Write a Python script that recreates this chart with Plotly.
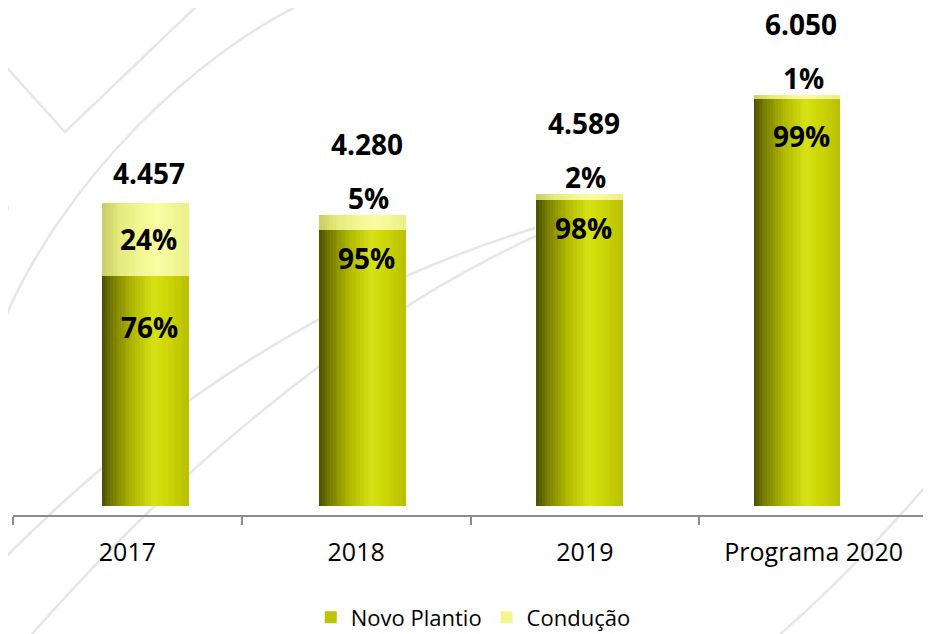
import plotly.graph_objects as go

# ---------------- data ----------------
categories = ["2017", "2018", "2019", "Programa 2020"]
totals = [4457, 4280, 4589, 6050]
novo_pct = [76, 95, 98, 99]
conducao_pct = [24, 5, 2, 1]

novo_vals = [t * p / 100 for t, p in zip(totals, novo_pct)]
cond_vals = [t * p / 100 for t, p in zip(totals, conducao_pct)]

# ---------------- style ----------------
FONT = "Open Sans"
BAR_W = 0.40
N_STRIPS = 32
novo_stops = [(0.0, (74, 76, 0)), (0.12, (120, 126, 0)), (0.35, (176, 184, 0)),
              (0.6, (214, 226, 22)), (0.75, (205, 215, 6)), (1.0, (184, 192, 0))]
cond_stops = [(0.0, (200, 204, 100)), (0.2, (228, 234, 124)), (0.5, (244, 249, 150)),
              (0.65, (249, 252, 162)), (1.0, (234, 240, 134))]
novo_legend_color = "#bcc600"
cond_legend_color = "#f2f78c"
novo_label_drop = [-51, -28, -28, -37]


def interp(stops, t):
    for (t0, c0), (t1, c1) in zip(stops[:-1], stops[1:]):
        if t0 <= t <= t1:
            f = (t - t0) / (t1 - t0) if t1 > t0 else 0
            c = [round(a + (b - a) * f) for a, b in zip(c0, c1)]
            return "rgb(%d,%d,%d)" % tuple(c)
    return "rgb(%d,%d,%d)" % stops[-1][1]


fig = go.Figure()


def add_cylinder(name, vals, bases, stops, legend_color):
    fig.add_trace(go.Bar(x=categories, y=vals, base=bases, name=name,
                         width=BAR_W, marker=dict(color=legend_color, line=dict(width=0)),
                         hoverinfo="skip", showlegend=True))
    for k in range(N_STRIPS):
        t0 = k / N_STRIPS
        fig.add_trace(go.Bar(x=categories, y=vals, base=bases,
                             offset=-BAR_W / 2 + t0 * BAR_W, width=BAR_W * (1 - t0),
                             marker=dict(color=interp(stops, (k + 0.5) / N_STRIPS), line=dict(width=0)),
                             hoverinfo="skip", showlegend=False))


add_cylinder("Novo Plantio", novo_vals, [0] * len(categories), novo_stops, novo_legend_color)
add_cylinder("Condução", cond_vals, novo_vals, cond_stops, cond_legend_color)

# invisible trace carrying the category axis with ticks between categories
fig.add_trace(go.Scatter(x=categories, y=totals, xaxis="x2", mode="markers",
                         marker=dict(opacity=0), hoverinfo="skip", showlegend=False))

LABEL_FONT = dict(family=FONT, size=28, color="black")
annotations = []
for i, c in enumerate(categories):
    small = conducao_pct[i] < 10
    annotations.append(dict(x=i, y=totals[i], xref="x", yref="y", showarrow=False,
                            text="<b>" + f"{totals[i]:,}".replace(",", ".") + "</b>",
                            yanchor="middle", yshift=71 if small else 30, xshift=4,
                            font=LABEL_FONT))
    if small:
        annotations.append(dict(x=i, y=totals[i], xref="x", yref="y", showarrow=False,
                                text=f"<b>{conducao_pct[i]}%</b>", yanchor="middle",
                                yshift=17, xshift=6, font=LABEL_FONT))
    else:
        annotations.append(dict(x=i, y=novo_vals[i] + cond_vals[i] / 2, xref="x", yref="y",
                                showarrow=False, text=f"<b>{conducao_pct[i]}%</b>",
                                yanchor="middle", xshift=3, font=LABEL_FONT))
    annotations.append(dict(x=i, y=novo_vals[i], xref="x", yref="y", showarrow=False,
                            text=f"<b>{novo_pct[i]}%</b>", yanchor="middle",
                            yshift=novo_label_drop[i], xshift=4, font=LABEL_FONT))

# page body has an 8px default margin -> figure is 8px smaller, geometry shifted
W, H = 923, 626
PL, PR, PT, PB = 5, 920, 0, 507          # plot area in figure pixels


def pp(xw, yw):
    # window pixel coords of the reference -> paper coords
    x, y = xw - 8, yw - 8
    return "%.4f,%.4f" % ((x - PL) / (PR - PL), (PB - y) / (PB - PT))


deco_paths = [
    "M" + pp(0, 60) + " L" + pp(65, 132) + " L" + pp(203, 0),
    "M" + pp(0, 187) + " L" + pp(8, 208) + " L" + pp(0, 230),
    "M" + pp(310, 0) + " C" + pp(200, 50) + " " + pp(60, 180) + " " + pp(0, 330),
    "M" + pp(0, 563) + " C" + pp(120, 440) + " " + pp(300, 300) + " " + pp(535, 228),
    "M" + pp(32, 634) + " C" + pp(150, 500) + " " + pp(330, 330) + " " + pp(538, 235),
    "M" + pp(931, 480) + " C" + pp(880, 540) + " " + pp(820, 600) + " " + pp(780, 634),
]
shapes = [dict(type="path", path=p, xref="paper", yref="paper", layer="below",
               line=dict(color="#e6e6e6", width=2.5)) for p in deco_paths]

fig.update_layout(
    width=W, height=H,
    margin=dict(l=PL, r=W - PR, t=PT, b=H - PB, autoexpand=False),
    paper_bgcolor="white", plot_bgcolor="rgba(0,0,0,0)",
    barmode="overlay", bargap=0,
    showlegend=True,
    legend=dict(orientation="h", x=0.503, xanchor="center", y=-0.202, yanchor="middle",
                font=dict(family=FONT, size=22, color="black"), bgcolor="rgba(0,0,0,0)",
                traceorder="normal"),
    xaxis=dict(type="category", categoryorder="array", categoryarray=categories,
               range=[-0.610, 3.603], visible=False),
    xaxis2=dict(type="category", categoryorder="array", categoryarray=categories,
                overlaying="x", anchor="y", side="bottom", range=[-0.5, 3.5],
                tickson="boundaries", ticks="outside", ticklen=8, tickwidth=2,
                tickcolor="#8c8c8c", showline=True, linecolor="#8c8c8c", linewidth=2,
                showgrid=False, zeroline=False, ticklabelstandoff=14,
                tickfont=dict(family=FONT, size=25, color="black")),
    yaxis=dict(range=[-132, 7326], visible=False),
    annotations=annotations,
    shapes=shapes,
    font=dict(family=FONT),
)

fig.write_html("out.html")
